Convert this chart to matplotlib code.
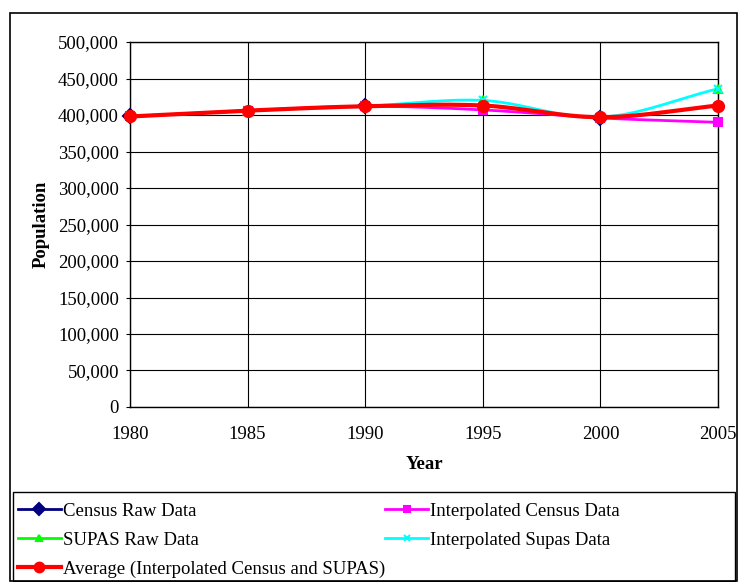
import numpy as np
import matplotlib.pyplot as plt
from matplotlib.patches import Rectangle
from matplotlib.ticker import FuncFormatter

plt.rcParams['font.family'] = ['Liberation Serif', 'DejaVu Serif']

years = [1980, 1985, 1990, 1995, 2000, 2005]
census_years = [1980, 1990, 2000]
census_raw = [398000, 412000, 396000]
supas_years = [1985, 1995, 2005]
supas_raw = [406000, 420000, 436000]
interp_census = [398000, 406000, 412000, 407000, 396000, 390000]
interp_supas = [398000, 406000, 412000, 420000, 397000, 436000]
average = [398000, 406000, 412000, 413000, 397000, 413000]


def smooth(xs, ys, n=30):
    # Catmull-Rom style curve through the points, like Excel's smoothed line
    xs = np.asarray(xs, float)
    ys = np.asarray(ys, float)
    px = np.concatenate([[2 * xs[0] - xs[1]], xs, [2 * xs[-1] - xs[-2]]])
    py = np.concatenate([[2 * ys[0] - ys[1]], ys, [2 * ys[-1] - ys[-2]]])
    outx, outy = [], []
    for i in range(1, len(px) - 2):
        t = np.linspace(0, 1, n)
        for p, out in ((px, outx), (py, outy)):
            p0, p1, p2, p3 = p[i - 1], p[i], p[i + 1], p[i + 2]
            out.extend(0.5 * ((2 * p1) + (-p0 + p2) * t
                              + (2 * p0 - 5 * p1 + 4 * p2 - p3) * t ** 2
                              + (-p0 + 3 * p1 - 3 * p2 + p3) * t ** 3))
    return outx, outy


fig = plt.figure(figsize=(7.39, 5.82), dpi=100)
ax = fig.add_axes([0.176, 0.3007, 0.7956, 0.6271])

FS = 13.5
# (x, y, colour, marker, label, marker size, draw line?)
series = [
    (census_years, census_raw, '#000080', 'D', 'Census Raw Data', 7, False),
    (supas_years, supas_raw, '#00ff00', '^', 'SUPAS Raw Data', 6, False),
    (years, interp_census, '#ff00ff', 's', 'Interpolated Census Data', 6, True),
    (years, interp_supas, '#00ffff', 'x', 'Interpolated Supas Data', 6, True),
    (years, average, '#ff0000', 'o', 'Average (Interpolated Census and SUPAS)', 8, True),
]
handles = []
for xs, ys, col, mk, lab, ms, line in series:
    lw = 3 if col == '#ff0000' else 2
    if line:
        sx, sy = smooth(xs, ys)
        ax.plot(sx, sy, color=col, lw=lw, zorder=3)
    ax.plot(xs, ys, linestyle='none', marker=mk, color=col, ms=ms,
            mew=1.5, zorder=2.9 if col == '#000080' else 4, clip_on=False)
    h, = ax.plot([], [], color=col, lw=lw, marker=mk, ms=ms - 1, mew=1.5,
                 label=lab)
    handles.append(h)

ax.set_xlim(1980, 2005)
ax.set_ylim(0, 500000)
ax.set_xticks(years)
ax.set_yticks(np.arange(0, 500001, 50000))
ax.yaxis.set_major_formatter(FuncFormatter(lambda v, p: f'{int(v):,}'))
ax.grid(True, color='black', lw=0.8)
ax.tick_params(axis='y', labelsize=FS, length=3, color='black', pad=5)
ax.tick_params(axis='x', labelsize=FS, length=0, pad=14)
for s in ax.spines.values():
    s.set_linewidth(1)
ax.set_xlabel('Year', fontsize=FS, fontweight='bold', labelpad=9)
ax.set_ylabel('Population', fontsize=FS, fontweight='bold', labelpad=6)

# outer chart frame and legend box
fig.patches.append(Rectangle((10 / 739, 0.001), 727 / 739, 1 - 13 / 582 - 0.001,
                             transform=fig.transFigure, fill=False,
                             edgecolor='black', lw=1.2))
fig.patches.append(Rectangle((13 / 739, 0.002), 722 / 739, 1 - 492 / 582 - 0.002,
                             transform=fig.transFigure, fill=False,
                             edgecolor='black', lw=1.0))

leg = fig.legend(handles=[handles[0], handles[1], handles[4], handles[2], handles[3]],
                 loc='upper left', bbox_to_anchor=(14 / 739, 1 - 499 / 582),
                 ncol=2, frameon=False, fontsize=FS, handlelength=2.3,
                 handletextpad=0.1, columnspacing=0.0, labelspacing=0.62,
                 borderpad=0.2, borderaxespad=0)

fig.savefig('out.png', dpi=100)
